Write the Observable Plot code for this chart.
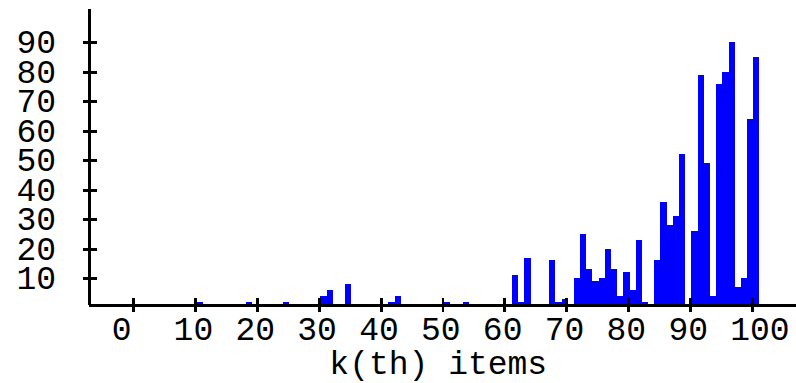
<!DOCTYPE html>
<html>
<head>
<meta charset="utf-8">
<script src="https://cdn.jsdelivr.net/npm/d3@7"></script>
<script src="https://cdn.jsdelivr.net/npm/@observablehq/plot@0.6"></script>
<style>
  html, body { margin: 0; padding: 0; background: #fff; }
  svg { shape-rendering: crispEdges; }
</style>
</head>
<body>
<div id="chart"></div>
<script>
// k(th) item index and its count
const kValues = [10, 18, 24, 30, 31, 34, 41, 42, 50, 53,
  61, 62, 63, 67, 68, 69, 71, 72, 73, 74, 75, 76, 77, 78, 79, 80, 81, 82,
  84, 85, 86, 87, 88, 90, 91, 92, 93, 94, 95, 96, 97, 98, 99, 100];
const counts = [2, 2, 2, 4, 6, 8, 2, 4, 2, 2,
  11, 2, 17, 16, 2, 3, 10, 25, 13, 9, 10, 20, 13, 4, 12, 6, 23, 2,
  16, 36, 28, 31, 52, 26, 79, 49, 4, 76, 80, 90, 7, 10, 64, 85];
const xTicks = [0, 10, 20, 30, 40, 50, 60, 70, 80, 90, 100];
const yTicks = [10, 20, 30, 40, 50, 60, 70, 80, 90];
const xDomain = [-7.24, 107.16];
const yDomain = [1, 101.3];
const xLabel = "k(th) items";

const data = kValues.map((k, i) => ({k, v: counts[i]}));
const font = "Liberation Mono, monospace";

const chart = Plot.plot({
  width: 796,
  height: 383,
  marginLeft: 88.5,
  marginRight: 0,
  marginTop: 9,
  marginBottom: 78.3,
  style: {background: "#fff", fontFamily: font},
  x: {domain: xDomain, axis: null},
  y: {domain: yDomain, axis: null},
  marks: [
    Plot.rectY(data, {
      x1: d => d.k + 0.25,
      x2: d => d.k + 1.25,
      y1: yDomain[0],
      y2: "v",
      fill: "#0000ff",
      inset: 0
    }),
    Plot.ruleX([xDomain[0]], {stroke: "#000", strokeWidth: 3}),
    Plot.ruleY([yDomain[0]], {stroke: "#000", strokeWidth: 3}),
    Plot.axisY({ticks: yTicks, tickSize: 14, dx: 8, text: null, label: null, stroke: "#000", strokeWidth: 2.7, strokeOpacity: 1}),
    Plot.axisY({ticks: yTicks, tickSize: 0, tickPadding: 33, fontSize: 33, fontFamily: font, fill: "#000", label: null}),
    Plot.axisX({ticks: xTicks, tickSize: 13.7, dy: -6.7, text: null, label: null, stroke: "#000", strokeWidth: 2.7, strokeOpacity: 1}),
    Plot.axisX({ticks: xTicks, tickSize: 0, tickPadding: 11, textAnchor: "start", dx: -22, fontSize: 33, fontFamily: font, fill: "#000", label: null}),
    Plot.text([xLabel], {frameAnchor: "bottom", dx: -4.5, dy: 58.7, lineAnchor: "middle", fontSize: 33, fontFamily: font, fill: "#000"})
  ]
});
document.getElementById("chart").appendChild(chart);
</script>
</body>
</html>
